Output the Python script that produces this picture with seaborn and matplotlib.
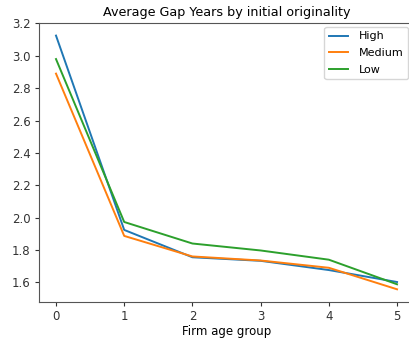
import numpy as np
import pandas as pd
import matplotlib
matplotlib.use("Agg")
import matplotlib.pyplot as plt
import seaborn as sns

# Firm age groups and average gap years per originality level
age_groups = [0, 1, 2, 3, 4, 5]
high = [3.125, 1.924, 1.755, 1.733, 1.676, 1.602]
medium = [2.890, 1.887, 1.760, 1.735, 1.690, 1.557]
low = [2.980, 1.973, 1.840, 1.797, 1.740, 1.588]
levels = ["High", "Medium", "Low"]

df = pd.DataFrame({
    "age": age_groups * 3,
    "gap": high + medium + low,
    "level": [lv for lv in levels for _ in age_groups],
})

fig = plt.figure(figsize=(4.1, 3.42), dpi=100)
ax = fig.add_axes([0.095, 0.117, 0.915, 0.816])

sns.lineplot(data=df, x="age", y="gap", hue="level", hue_order=levels,
             palette=sns.color_palette("tab10", 3), linewidth=1.4, ax=ax)

ax.set_title("Average Gap Years by initial originality", fontsize=9.2, pad=5)
ax.set_xlabel("Firm age group", fontsize=8.5, labelpad=1)
ax.set_ylabel("")
ax.set_xticks(age_groups)
ax.set_yticks([1.6, 1.8, 2.0, 2.2, 2.4, 2.6, 2.8, 3.0, 3.2])
ax.tick_params(labelsize=8.5, length=3, pad=3, colors="#333333")
ax.margins(x=0.05)
ax.spines["right"].set_visible(False)
for side in ["left", "bottom", "top"]:
    ax.spines[side].set_color("#555555")

# legend sits against the right edge of the figure, as in the original
leg = ax.legend(loc="upper right", fontsize=8, bbox_to_anchor=(408 / 410, 1 - 27 / 342),
                bbox_transform=fig.transFigure, borderaxespad=0,
                labelspacing=0.6, handlelength=1.7, handletextpad=1.0)
leg.set_title(None)

fig.savefig("out.png", dpi=100)
